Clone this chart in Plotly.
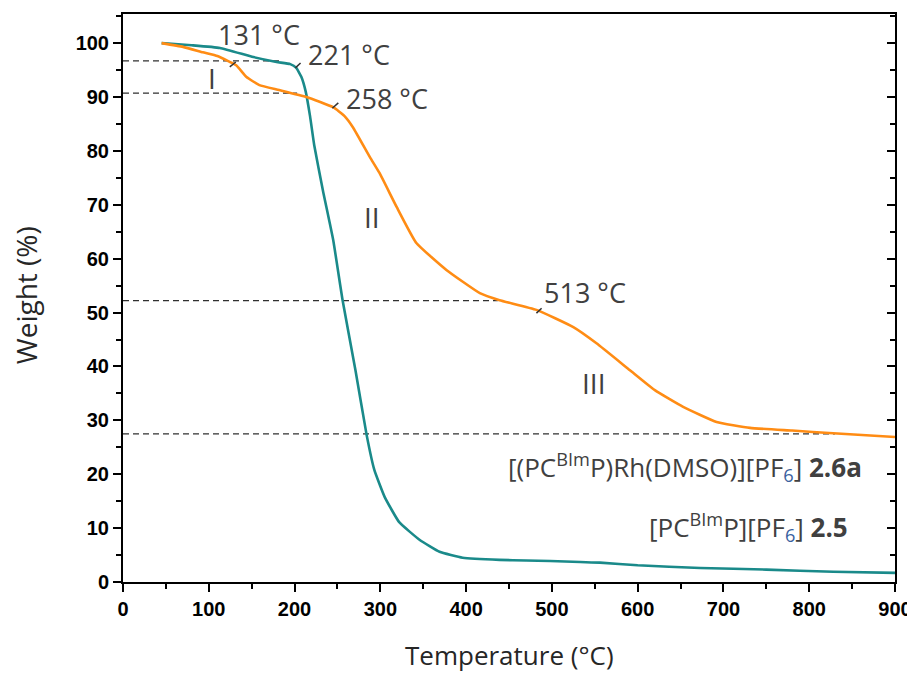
import plotly.graph_objects as go

# --- data ---
temp_25 = [45, 80, 113, 152, 179, 195, 202, 208, 213, 218, 223, 233, 245, 256, 271, 284, 293, 305, 322, 346,
           369, 396, 439, 470, 498, 533, 556, 600, 673, 750, 828, 900]
weight_25 = [100, 99.6, 99.1, 97.4, 96.5, 96.1, 95.4, 93.7, 91.0, 86.5, 81.0, 72.7, 63.5, 52.3, 39.3, 27.3, 20.8,
             15.8, 11.1, 7.8, 5.6, 4.5, 4.1, 4.0, 3.9, 3.7, 3.6, 3.1, 2.6, 2.3, 1.9, 1.7]

temp_26 = [45, 70, 93, 110, 121, 132, 144, 159, 182, 214, 245, 258, 268, 288, 299, 319, 342, 377, 416, 439,
           482, 525, 552, 591, 620, 653, 692, 731, 780, 828, 900]
weight_26 = [100, 99.3, 98.3, 97.6, 96.8, 95.9, 93.7, 92.2, 91.3, 90, 88.1, 86.5, 84.4, 78.8, 75.9, 69.6, 62.9,
             57.9, 53.6, 52.3, 50.5, 47.3, 44.3, 39.3, 35.6, 32.5, 29.7, 28.6, 28.1, 27.6, 26.9]

# dashed step levels (weight %) and where they end (temperature)
step_levels = [96.7, 90.7, 52.2, 27.5]
step_ends = [183, 203, 437, 830]

# temperature labels
temp_labels = ["131 °C", "221 °C", "258 °C", "513 °C"]
temp_label_x = [159, 263, 308, 539]
temp_label_y = [101.6, 97.8, 89.8, 53.8]
# short pointer marks
pointer_x0 = [124.5, 201, 244, 482]
pointer_y0 = [95.6, 95.4, 87.9, 49.9]
pointer_x1 = [131.5, 207, 251, 488]
pointer_y1 = [96.5, 96.3, 88.9, 50.8]

stage_labels = ["I", "II", "III"]
stage_x = [104, 290, 549]
stage_y = [93.5, 67.7, 36.9]

x_ticks = [0, 100, 200, 300, 400, 500, 600, 700, 800, 900]
y_ticks = [0, 10, 20, 30, 40, 50, 60, 70, 80, 90, 100]

x_title = "Temperature (°C)"
y_title = "Weight (%)"

TEAL = "#1a8a8a"
ORANGE = "#ff8c14"
TXT = "#404040"
FONT = "Open Sans"

fig = go.Figure()

for lvl, xe in zip(step_levels, step_ends):
    fig.add_trace(go.Scatter(x=[0, xe], y=[lvl, lvl], mode="lines",
                             line=dict(color="#303030", width=1.3, dash="6px,4px"),
                             hoverinfo="skip", showlegend=False))

fig.add_trace(go.Scatter(x=temp_25, y=weight_25, mode="lines",
                         line=dict(color=TEAL, width=2.6, shape="spline", smoothing=0.4),
                         name="2.5", showlegend=False))
fig.add_trace(go.Scatter(x=temp_26, y=weight_26, mode="lines",
                         line=dict(color=ORANGE, width=2.6, shape="spline", smoothing=0.4),
                         name="2.6a", showlegend=False))

# invisible trace to carry the right axis (inside ticks)
fig.add_trace(go.Scatter(x=[0], y=[0], yaxis="y2", mode="markers", marker=dict(opacity=0),
                         hoverinfo="skip", showlegend=False))

for t, x, y in zip(temp_labels, temp_label_x, temp_label_y):
    fig.add_annotation(x=x, y=y, text=t, showarrow=False, font=dict(family=FONT, size=27, color=TXT),
                       xanchor="center", yanchor="middle")
for x0, y0, x1, y1 in zip(pointer_x0, pointer_y0, pointer_x1, pointer_y1):
    fig.add_shape(type="line", x0=x0, y0=y0, x1=x1, y1=y1, line=dict(color="#333333", width=1.5))
for t, x, y in zip(stage_labels, stage_x, stage_y):
    fig.add_annotation(x=x, y=y, text=t, showarrow=False, font=dict(family=FONT, size=28, color=TXT),
                       xanchor="center", yanchor="middle")

SUB6 = "<sub><span style='color:#3a62a0'>6</span></sub>"
fig.add_annotation(x=864, y=21.3, xanchor="right", yanchor="middle", showarrow=False,
                   text="[(PC<sup>BIm</sup>P)Rh(DMSO)][PF" + SUB6 + "] <b>2.6a</b>",
                   font=dict(family=FONT, size=26, color=TXT))
fig.add_annotation(x=847, y=10.2, xanchor="right", yanchor="middle", showarrow=False,
                   text="[PC<sup>BIm</sup>P][PF" + SUB6 + "] <b>2.5</b>",
                   font=dict(family=FONT, size=26, color=TXT))

# axis titles as paper-positioned annotations
fig.add_annotation(xref="paper", yref="paper", x=0.501, y=-0.1285, text=x_title, showarrow=False,
                   xanchor="center", yanchor="middle", font=dict(family=FONT, size=26, color="#262626"))
fig.add_annotation(xref="paper", yref="paper", x=-0.1256, y=0.505, text=y_title, showarrow=False,
                   textangle=-90, xanchor="center", yanchor="middle",
                   font=dict(family=FONT, size=28, color="#262626"))

TICKFONT = dict(family="Arial", size=20, color="black", weight="bold")

# page body adds an 8px offset, so the figure is sized/margined to place the frame as in the reference
fig.update_layout(
    width=907, height=665,
    margin=dict(l=115, r=20, t=6, b=91, autoexpand=False),
    paper_bgcolor="white", plot_bgcolor="white",
    xaxis=dict(range=[0, 900], tickvals=x_ticks, ticks="outside", ticklen=8, tickwidth=2, tickcolor="black",
               showline=True, linecolor="black", linewidth=2, mirror=True, showgrid=False, zeroline=False,
               tickfont=TICKFONT,
               minor=dict(dtick=50, ticks="outside", ticklen=5, tickwidth=2, tickcolor="black", showgrid=False)),
    yaxis=dict(range=[0, 105.4], tickvals=y_ticks, ticks="outside", ticklen=8, tickwidth=2, tickcolor="black",
               showline=True, linecolor="black", linewidth=2, mirror=True, showgrid=False, zeroline=False,
               tickfont=TICKFONT,
               minor=dict(dtick=5, ticks="outside", ticklen=5, tickwidth=2, tickcolor="black", showgrid=False)),
    yaxis2=dict(range=[0, 105.4], overlaying="y", side="right", tickvals=y_ticks, ticks="inside", ticklen=8,
                tickwidth=2, tickcolor="black", showticklabels=False, showgrid=False, zeroline=False,
                minor=dict(dtick=5, ticks="inside", ticklen=5, tickwidth=2, tickcolor="black", showgrid=False)),
)

fig.write_html("out.html")
